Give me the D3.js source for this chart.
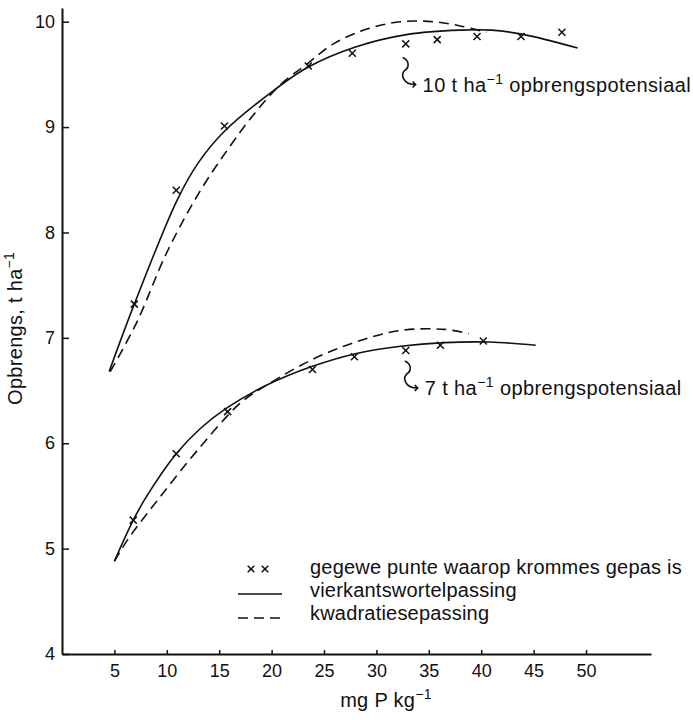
<!DOCTYPE html>
<meta charset="utf-8">
<html>
  <style>
    body { margin: 0; background: #fff; }
    text { font-family: "Liberation Sans", Arial, sans-serif; fill: #111; }
    .fit { fill: none; stroke: #111; stroke-width: 1.6px; }
    .quad { stroke-dasharray: 10,6; }
    .mark { fill: none; stroke: #111; stroke-width: 1.5px; }
  </style>
  <head>
    <script src="https://d3js.org/d3.v7.min.js"></script>
  </head>
  <body>
    <script>
      // tick values
      var xTicks = [5, 10, 15, 20, 25, 30, 35, 40, 45, 50];
      var yTicks = [4, 5, 6, 7, 8, 9, 10];

      // measured points, 10 t/ha potential
      var upperP = [6.9, 10.9, 15.5, 23.5, 27.7, 32.8, 35.8, 39.6, 43.8, 47.7];
      var upperY = [7.32, 8.40, 9.01, 9.58, 9.70, 9.79, 9.83, 9.86, 9.86, 9.90];
      // measured points, 7 t/ha potential
      var lowerP = [6.8, 10.9, 15.8, 23.9, 27.9, 32.8, 36.1, 40.2];
      var lowerY = [5.27, 5.90, 6.30, 6.70, 6.82, 6.88, 6.93, 6.97];

      // square root fit (solid)
      var upperSqrtP = [4.5, 6.9, 11, 13, 15.5, 20.5, 23.5, 28, 33, 38, 41, 44, 49.2];
      var upperSqrtY = [6.68, 7.32, 8.31, 8.66, 8.96, 9.37, 9.57, 9.76, 9.88, 9.92, 9.92, 9.88, 9.75];
      var lowerSqrtP = [5.0, 6.8, 8.1, 10.9, 13.2, 15.8, 19.5, 23.9, 28, 32.3, 36.5, 40.8, 45.2];
      var lowerSqrtY = [4.88, 5.27, 5.50, 5.90, 6.14, 6.34, 6.55, 6.73, 6.85, 6.92, 6.955, 6.96, 6.93];

      // quadratic fit (dashed)
      var upperQuadP = [4.6, 7.1, 10, 13.1, 15.9, 18.3, 20.8, 23.4, 25.9, 29.1, 32.3, 35.4, 38, 40.5];
      var upperQuadY = [6.68, 7.14, 7.81, 8.38, 8.80, 9.12, 9.40, 9.60, 9.79, 9.93, 10.0, 10.0, 9.96, 9.90];
      var lowerQuadP = [5.0, 6.3, 9.2, 12.9, 17, 19.5, 23.8, 28, 32.3, 36.5, 38.8];
      var lowerQuadY = [4.88, 5.09, 5.47, 5.93, 6.38, 6.55, 6.79, 6.96, 7.07, 7.08, 7.04];

      var margin = {top: 8, right: 42, bottom: 66, left: 62},
          width = 693 - margin.left - margin.right,
          height = 720 - margin.top - margin.bottom;

      var svg = d3.select("body").append("svg")
          .attr("width", 693)
          .attr("height", 720)
          .append("g")
          .attr("transform", "translate(" + margin.left + "," + margin.top + ")");

      var x = d3.scaleLinear().domain([0, 56.2]).range([0, width]);
      var y = d3.scaleLinear().domain([4, 10.13]).range([height, 0]);

      function zip(px, py) {
        return px.map(function(d, i) { return {p: d, v: py[i]}; });
      }

      // axes, ticks point inward
      svg.append("g")
          .call(d3.axisLeft(y).tickValues(yTicks).tickFormat(d3.format("d"))
                  .tickSize(-7).tickSizeOuter(0).tickPadding(7));
      svg.append("g")
          .attr("transform", "translate(0," + height + ")")
          .call(d3.axisBottom(x).tickValues(xTicks).tickSize(-4).tickSizeOuter(0).tickPadding(10));
      svg.selectAll(".domain").attr("stroke", "#111").attr("stroke-width", 2);
      svg.selectAll(".tick line").attr("stroke", "#111").attr("stroke-width", 1.5);
      svg.selectAll(".tick text").attr("font-size", 18).attr("font-family", null).attr("fill", "#111");

      // fitted curves
      var line = d3.line()
          .curve(d3.curveCatmullRom.alpha(0.5))
          .x(function(d) { return x(d.p); })
          .y(function(d) { return y(d.v); });

      svg.append("path").datum(zip(upperSqrtP, upperSqrtY)).attr("class", "fit").attr("d", line);
      svg.append("path").datum(zip(lowerSqrtP, lowerSqrtY)).attr("class", "fit").attr("d", line);
      svg.append("path").datum(zip(upperQuadP, upperQuadY)).attr("class", "fit quad").attr("d", line);
      svg.append("path").datum(zip(lowerQuadP, lowerQuadY)).attr("class", "fit quad").attr("d", line);

      // measured points as x marks
      var cross = d3.symbol().type(d3.symbolTimes).size(34);
      svg.selectAll(".pt").data(zip(upperP, upperY).concat(zip(lowerP, lowerY)))
        .enter().append("path")
          .attr("class", "mark")
          .attr("d", cross)
          .attr("transform", function(d) { return "translate(" + x(d.p) + "," + y(d.v) + ")"; });

      // text with a superscript -1
      function supText(g, px, py, before, after, opts) {
        var t = g.append("text")
            .attr("x", px).attr("y", py)
            .attr("font-size", 20)
            .attr("letter-spacing", opts && opts.ls != null ? opts.ls : 0.5);
        if (opts && opts.rotate) t.attr("transform", "rotate(-90," + px + "," + py + ")").attr("text-anchor", "middle");
        if (opts && opts.anchor) t.attr("text-anchor", opts.anchor);
        t.append("tspan").text(before);
        t.append("tspan").attr("font-size", 14).attr("dy", -8).text("\u2212");
        t.append("tspan").attr("font-size", 14).text("1");
        t.append("tspan").attr("dy", 8).text(after);
        return t;
      }

      // braces pointing at the potential labels
      function note(p, v, label) {
        var bx = x(p), by = y(v);
        svg.append("path")
            .attr("class", "fit").attr("stroke-width", 1.3)
            .attr("d", "M" + bx + "," + by +
                " C" + (bx + 7) + "," + (by + 3) + " " + (bx + 7) + "," + (by + 10) + " " + (bx + 2) + "," + (by + 13) +
                " C" + (bx - 2) + "," + (by + 17) + " " + (bx) + "," + (by + 27) + " " + (bx + 13) + "," + (by + 27) +
                " M" + (bx + 10) + "," + (by + 24) + " L" + (bx + 13) + "," + (by + 27) + " L" + (bx + 10) + "," + (by + 30));
        supText(svg, bx + 20, by + 34, label + " t ha", " opbrengspotensiaal", {ls: 0.4});
      }
      note(32.5, 9.66, "10");
      note(32.7, 6.78, "7");

      // axis titles
      supText(svg, -40, y(7.09), "Opbrengs, t ha", "", {rotate: true, ls: 0.3});
      supText(svg, 324, height + 53, "mg P kg", "", {anchor: "middle", ls: 0.3});

      // legend
      var leg = svg.append("g");
      var lx = 176, ly = [560, 583, 606];
      leg.selectAll(".lm").data([0, 1]).enter().append("path")
          .attr("class", "mark")
          .attr("d", d3.symbol().type(d3.symbolTimes).size(30))
          .attr("transform", function(d) { return "translate(" + (lx + 13 + d * 14) + "," + (ly[0] + 1) + ")"; });
      leg.append("line").attr("class", "fit")
          .attr("x1", lx).attr("x2", lx + 44).attr("y1", ly[1] + 3).attr("y2", ly[1] + 3);
      leg.append("line").attr("class", "fit quad").attr("stroke-dasharray", "11,6")
          .attr("x1", lx).attr("x2", lx + 45).attr("y1", ly[2] + 4).attr("y2", ly[2] + 4);
      var legLabels = ["gegewe punte waarop krommes gepas is", "vierkantswortelpassing", "kwadratiesepassing"];
      leg.selectAll(".lt").data(legLabels).enter().append("text")
          .attr("x", lx + 72)
          .attr("y", function(d, i) { return ly[i] + 6; })
          .attr("font-size", 20)
          .attr("letter-spacing", 0.2)
          .text(function(d) { return d; });
    </script>
  </body>
</html>
